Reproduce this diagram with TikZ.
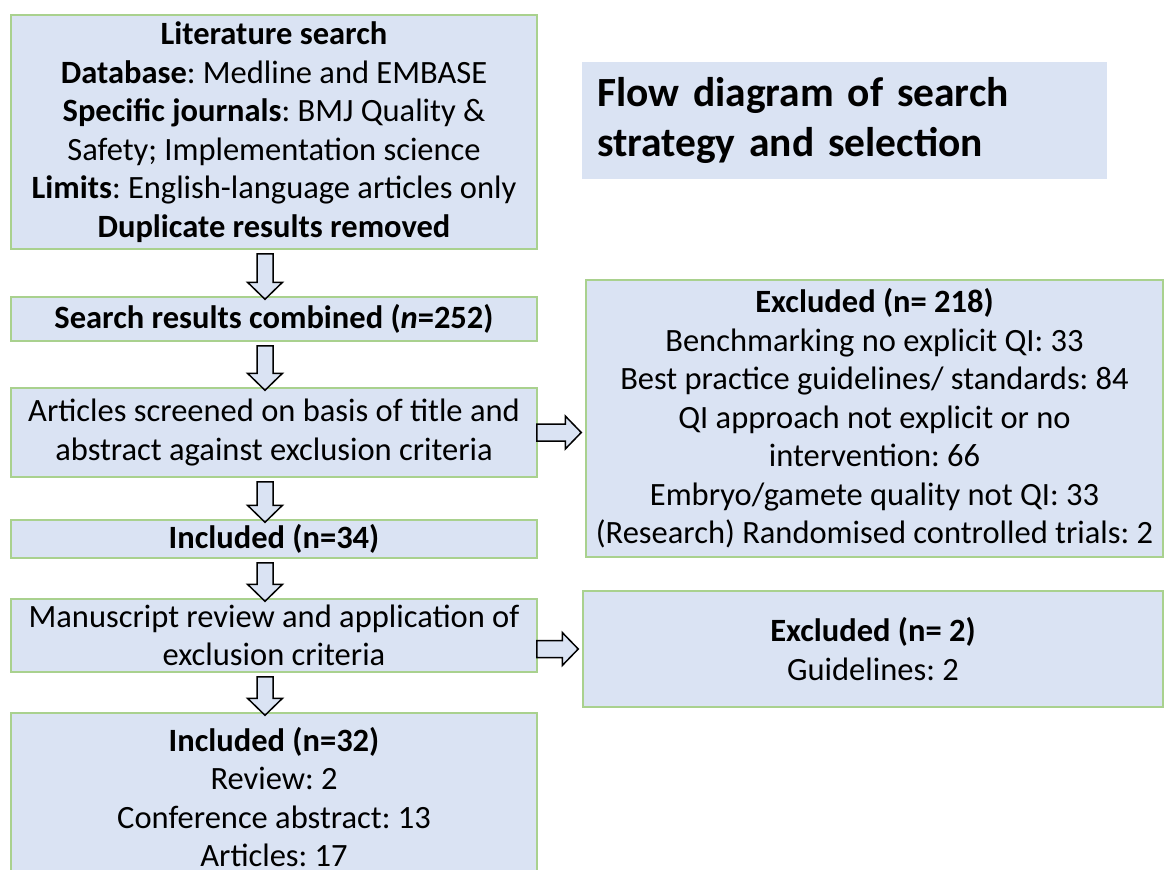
\documentclass[tikz,border=0pt]{standalone}
\usepackage{fontspec}
\setmainfont{Carlito}
\usepackage{xcolor}
\usetikzlibrary{calc}
\frenchspacing

\definecolor{boxblue}{RGB}{218,227,243}
\definecolor{boxgreen}{RGB}{169,209,142}

\newcommand{\vblock}[2]{%
  \draw[blockarrow] let \p1=(#1.south), \p2=(#2.north) in
    (\x1-17pt,\y1-4pt) -- (\x1-1pt,\y1-4pt) -- (\x1-1pt,\y2+14pt) -- (\x1+8.5pt,\y2+14pt)
    -- (\x1-9pt,\y2-3pt) -- (\x1-26.5pt,\y2+14pt) -- (\x1-17pt,\y2+14pt) -- cycle;}
\newcommand{\hblock}[2]{%
  \draw[blockarrow] let \p1=(#1), \p2=(#2) in
    (\x1-1pt,\y1+8.5pt) -- (\x2-20pt,\y1+8.5pt) -- (\x2-20pt,\y1+16.5pt) -- (\x2-4pt,\y1)
    -- (\x2-20pt,\y1-16.5pt) -- (\x2-20pt,\y1-8.5pt) -- (\x1-1pt,\y1-8.5pt) -- cycle;}

\begin{document}
\begin{tikzpicture}[x=1pt, y=-1pt,
  box/.style={draw=boxgreen, line width=1.5pt, fill=boxblue, align=center, inner sep=0pt,
    font=\fontsize{32.5}{38.5}\selectfont},
  blockarrow/.style={draw=black, line width=1.5pt, fill=boxblue, line join=miter}]
\useasboundingbox (0,0) rectangle (1165,870);
\node[box, minimum width=526pt, minimum height=234pt] (lit) at (274,132)
  {\textbf{Literature search}\\ \textbf{Database}: Medline and EMBASE\\ \textbf{Specific journals}: BMJ Quality \&\\ Safety; Implementation science\\ \textbf{Limits}: English-language articles only\\ \textbf{Duplicate results removed}};
\node[box, minimum width=526pt, minimum height=44pt] (comb) at (274,319)
  {\textbf{Search results combined (\textit{n}=252)}};
\node[box, minimum width=526pt, minimum height=89pt] (screen) at (274,432.5)
  {Articles screened on basis of title and\\ abstract against exclusion criteria};
\node[box, minimum width=526pt, minimum height=38pt] (incl) at (274,539)
  {\textbf{Included (n=34)}};
\node[box, minimum width=526pt, minimum height=73pt] (manu) at (274,635.5)
  {Manuscript review and application of\\ exclusion criteria};
\node[box, minimum width=526pt, minimum height=168pt] (final) at (274,797)
  {\textbf{Included (n=32)}\\ Review: 2\\ Conference abstract: 13\\ Articles: 17};
\node[box, minimum width=577pt, minimum height=277pt] (excl) at (874.5,418.5)
  {\textbf{Excluded (n= 218)}\\ Benchmarking no explicit QI: 33\\ Best practice guidelines/ standards: 84\\ QI approach not explicit or no\\ intervention: 66\\ Embryo/gamete quality not QI: 33\\ (Research) Randomised controlled trials: 2};
\node[box, minimum width=580pt, minimum height=116pt] (exclb) at (873,649)
  {\textbf{Excluded (n= 2)}\\ Guidelines: 2};
\node[fill=boxblue, minimum width=525pt, minimum height=117pt, text width=495pt, inner xsep=15pt,
  align=left, font=\fontsize{41.5}{50}\selectfont\bfseries] (title) at (844.5,120.5)
  {Flow diagram of search\\ strategy and selection};
\vblock{lit}{comb}
\vblock{comb}{screen}
\vblock{screen}{incl}
\vblock{incl}{manu}
\vblock{manu}{final}
\hblock{screen.east}{excl.west |- screen.east}
\hblock{manu.east |- exclb.west}{exclb.west}
\end{tikzpicture}
\end{document}
